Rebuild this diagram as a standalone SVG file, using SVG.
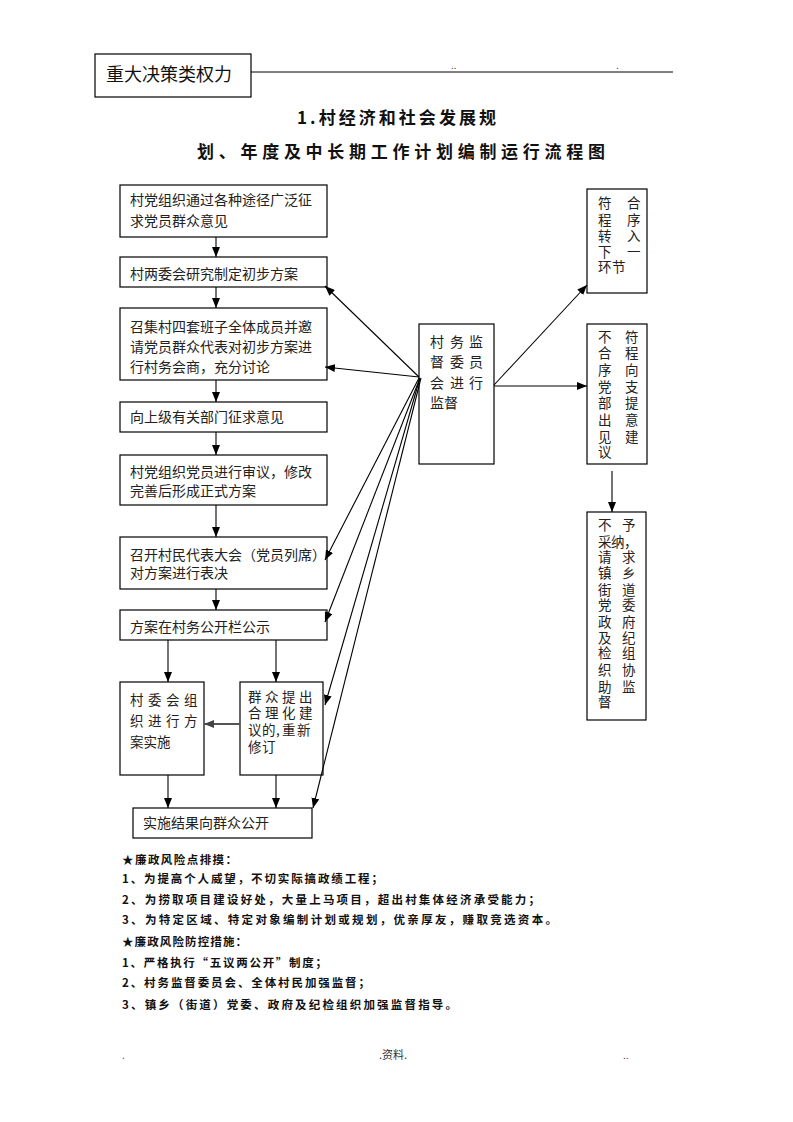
<svg xmlns="http://www.w3.org/2000/svg" width="793" height="1122" viewBox="0 0 793 1122">
<style>
.box{fill:#fff;stroke:#000;stroke-width:1.2}
.t{font-family:"Noto Sans CJK SC","Liberation Sans",sans-serif;font-size:14px;fill:#222}
.v{font-family:"Noto Sans CJK SC","Liberation Sans",sans-serif;font-size:13.5px;fill:#222}
.b{font-family:"Noto Sans CJK SC","Liberation Sans",sans-serif;font-size:11.5px;font-weight:bold;fill:#111}
.ttl{font-family:"Noto Sans CJK SC","Liberation Sans",sans-serif;font-size:17px;font-weight:bold;fill:#111}
.ln{stroke:#000;stroke-width:1.1;fill:none;marker-end:url(#ah)}
.dot{font-family:"Liberation Sans",sans-serif;font-size:10px;fill:#333}
</style>
<defs>
<marker id="ah" markerUnits="userSpaceOnUse" markerWidth="10" markerHeight="8" refX="10" refY="4" orient="auto"><path d="M0,0 L10,4 L0,8 z" fill="#000"/></marker>
<marker id="ahg" markerUnits="userSpaceOnUse" markerWidth="10" markerHeight="8" refX="10" refY="4" orient="auto"><path d="M0,0 L10,4 L0,8 z" fill="#444"/></marker>
</defs>
<rect width="793" height="1122" fill="#fff"/>
<g id="header">
<rect class="box" x="95" y="54" width="156" height="43"/>
<text x="106" y="81" style="font-family:'Noto Sans CJK SC',sans-serif;font-size:18px;fill:#111">重大决策类权力</text>
<line x1="251" y1="72" x2="673" y2="72" stroke="#000" stroke-width="1"/>
<text class="dot" x="451" y="69">..</text>
<text class="dot" x="616" y="69">.</text>
</g>
<g id="title">
<text class="ttl" x="297" y="124" textLength="199" lengthAdjust="spacing">1.村经济和社会发展规</text>
<text class="ttl" x="197" y="158" textLength="408" lengthAdjust="spacing">划、年度及中长期工作计划编制运行流程图</text>
</g>
<g id="n1"><rect class="box" x="120" y="185" width="207" height="52"/>
<text class="t" x="130" y="205">村党组织通过各种途径广泛征</text><text class="t" x="130" y="226">求党员群众意见</text></g>
<g id="n2"><rect class="box" x="120" y="257" width="207" height="30"/>
<text class="t" x="130" y="279">村两委会研究制定初步方案</text></g>
<g id="n3"><rect class="box" x="120" y="308" width="207" height="72"/>
<text class="t" x="130" y="332">召集村四套班子全体成员并邀</text><text class="t" x="130" y="352">请党员群众代表对初步方案进</text><text class="t" x="130" y="372">行村务会商，充分讨论</text></g>
<g id="n4"><rect class="box" x="120" y="402" width="207" height="30"/>
<text class="t" x="130" y="422">向上级有关部门征求意见</text></g>
<g id="n5"><rect class="box" x="120" y="455" width="207" height="50"/>
<text class="t" x="130" y="477">村党组织党员进行审议，修改</text><text class="t" x="130" y="496">完善后形成正式方案</text></g>
<g id="n6"><rect class="box" x="120" y="537" width="207" height="52"/>
<text class="t" x="130" y="560">召开村民代表大会（党员列席）</text><text class="t" x="130" y="578">对方案进行表决</text></g>
<g id="n7"><rect class="box" x="120" y="610" width="207" height="30"/>
<text class="t" x="130" y="632">方案在村务公开栏公示</text></g>
<g id="n8"><rect class="box" x="120" y="682" width="84" height="93"/>
<text class="v" x="130 148 166 184" y="705">村委会组</text><text class="v" x="130 148 166 184" y="726">织进行方</text><text class="v" x="130" y="747">案实施</text></g>
<g id="n9"><rect class="box" x="240" y="682" width="83" height="93"/>
<text class="v" x="248 265 282 299 248 265 282 299 248 262 276 282 297 248 262" y="702 702 702 702 718 718 718 718 735 735 735 735 735 752 752">群众提出合理化建议的,重新修订</text></g>
<g id="n10"><rect class="box" x="133" y="808" width="179" height="30"/>
<text class="t" x="143" y="828">实施结果向群众公开</text></g>
<g id="n11"><rect class="box" x="419" y="324" width="75" height="140"/>
<text class="t" x="430 450 469 430 450 469 430 450 469 430 444" y="347 347 347 367 367 367 388 388 388 408 408">村务监督委员会进行监督</text></g>
<g id="n12"><rect class="box" x="587" y="189" width="60" height="104"/>
<text class="v" x="598 627 598 627 598 627 598 627 598 612" y="208 208 225 225 241 241 257 257 272 272">符合程序转入下一环节</text></g>
<g id="n13"><rect class="box" x="587" y="324" width="60" height="140"/>
<text class="v" x="598 625 598 625 598 625 598 625 598 625 598 625 598 625 598" y="342 342 358 358 375 375 392 392 408 408 425 425 442 442 457">不符合程序向党支部提出意见建议</text></g>
<g id="n14"><rect class="box" x="587" y="512" width="59" height="208"/>
<text class="v" x="598 622 598 611 624 598 622 598 622 598 622 598 622 598 622 598 622 598 622 598 622 598 622 598" y="530 530 547 547 547 562 562 578 578 595 595 610 610 627 627 643 643 658 658 675 675 692 692 707">不予采纳，请求镇乡街道党委政府及纪检组织协助监督</text></g>
<g id="connectors">
<line class="ln" x1="216" y1="237" x2="216" y2="257"/>
<line class="ln" x1="216" y1="287" x2="216" y2="308"/>
<line class="ln" x1="216" y1="380" x2="216" y2="402"/>
<line class="ln" x1="216" y1="432" x2="216" y2="455"/>
<line class="ln" x1="216" y1="505" x2="216" y2="537"/>
<line class="ln" x1="216" y1="589" x2="216" y2="610"/>
<line class="ln" x1="168" y1="640" x2="168" y2="682"/>
<line class="ln" x1="276" y1="640" x2="276" y2="682"/>
<line x1="240" y1="724" x2="204" y2="724" stroke="#555" stroke-width="2" marker-end="url(#ahg)"/>
<line class="ln" x1="168" y1="775" x2="168" y2="808"/>
<line class="ln" x1="276" y1="775" x2="276" y2="808"/>
<line class="ln" x1="419" y1="377" x2="325" y2="286"/>
<line class="ln" x1="419" y1="377" x2="325" y2="367"/>
<line class="ln" x1="419" y1="378" x2="325" y2="560"/>
<line class="ln" x1="420" y1="378" x2="325" y2="622"/>
<line class="ln" x1="420" y1="378" x2="325" y2="705"/>
<line class="ln" x1="421" y1="378" x2="313" y2="808"/>
<line class="ln" x1="494" y1="385" x2="587" y2="285"/>
<line class="ln" x1="494" y1="386" x2="587" y2="386"/>
<line class="ln" x1="612" y1="471" x2="612" y2="512"/>
</g>
<g id="notes">
<text class="b" x="122" y="864" textLength="115" lengthAdjust="spacing">★廉政风险点排摸：</text>
<text class="b" x="122" y="883" textLength="261" lengthAdjust="spacing">1、为提高个人威望，不切实际搞政绩工程；</text>
<text class="b" x="122" y="904" textLength="418" lengthAdjust="spacing">2、为捞取项目建设好处，大量上马项目，超出村集体经济承受能力；</text>
<text class="b" x="122" y="924" textLength="435" lengthAdjust="spacing">3、为特定区域、特定对象编制计划或规划，优亲厚友，赚取竞选资本。</text>
<text class="b" x="122" y="946" textLength="125" lengthAdjust="spacing">★廉政风险防控措施：</text>
<text class="b" x="122" y="967" textLength="205" lengthAdjust="spacing">1、严格执行“五议两公开”制度；</text>
<text class="b" x="122" y="987" textLength="248" lengthAdjust="spacing">2、村务监督委员会、全体村民加强监督；</text>
<text class="b" x="122" y="1009" textLength="335" lengthAdjust="spacing">3、镇乡（街道）党委、政府及纪检组织加强监督指导。</text>
</g>
<g id="footer">
<text class="dot" x="122" y="1059">.</text>
<text x="379" y="1059" style="font-family:'Noto Sans CJK SC',sans-serif;font-size:11px;fill:#333">.资料.</text>
<text class="dot" x="623" y="1059">..</text>
</g>
</svg>
